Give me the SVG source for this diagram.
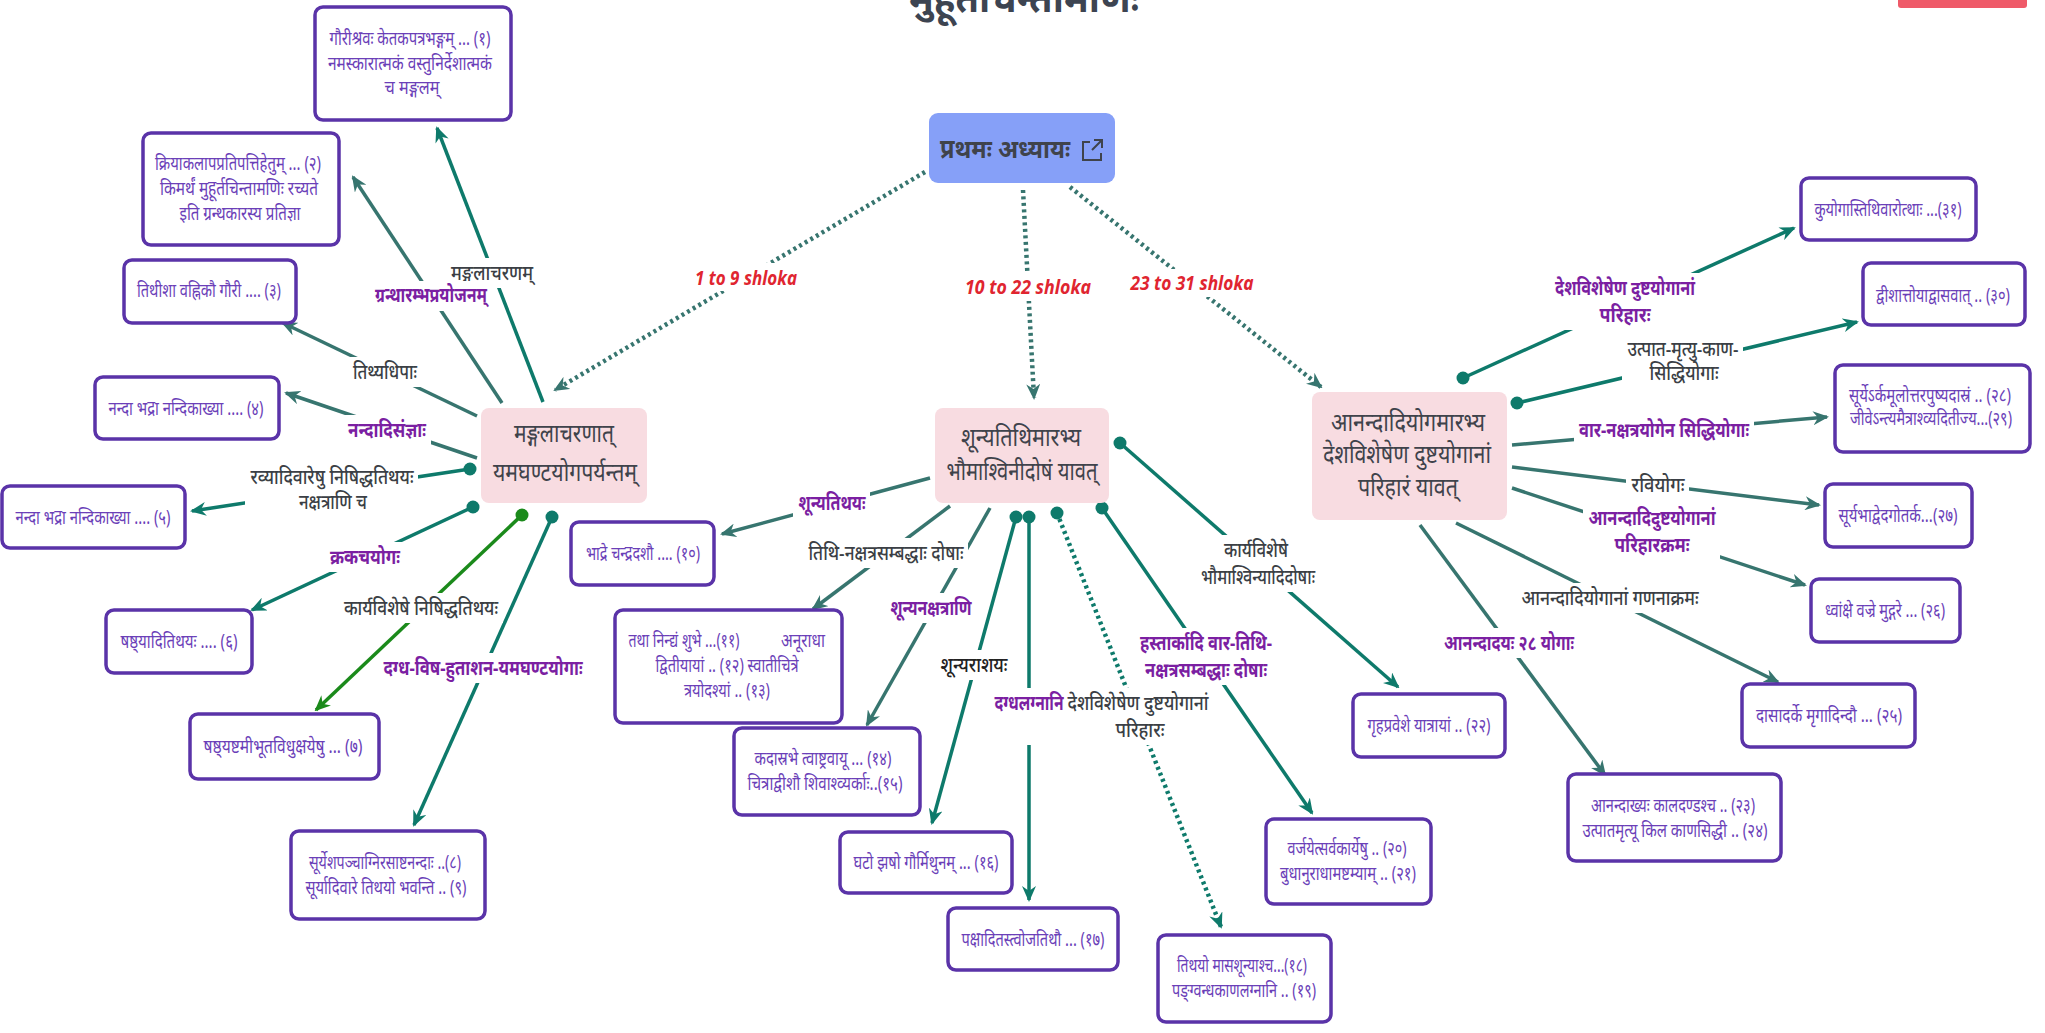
<svg xmlns="http://www.w3.org/2000/svg" width="2045" height="1033" viewBox="0 0 2045 1033">
<style>
text{font-family:"Noto Sans","Noto Sans Devanagari","DejaVu Sans",sans-serif;text-anchor:middle}
.leaf rect{fill:#fff;stroke:#5a33a8;stroke-width:3.5}
.leaf text{fill:#6b3fb8;font-size:19px}
.main rect{fill:#f8dce1}
.main text{fill:#3f434b;font-size:25px}
.e{fill:none;stroke-width:3.5}
.t{stroke:#0e7a6b}
.g{stroke:#37756f}
.gr{stroke:#1b8a1b}
.dt{stroke-dasharray:3 3.5;stroke-width:4.5}
.dot{fill:#0e7a6b}
.lbg{fill:#fff}
.lp{fill:#7b1fa2;font-size:20px;font-weight:bold}
.ld{fill:#3b3f45;font-size:20px;font-weight:500}
.lr{fill:#e02530;font-size:20px;font-weight:bold;font-style:italic}
</style>
<defs>
<marker id="aT" viewBox="0 0 16 14" refX="14" refY="7" markerWidth="16" markerHeight="14" markerUnits="userSpaceOnUse" orient="auto"><path d="M0,0 L16,7 L0,14 L5,7 z" fill="#0e7a6b"/></marker>
<marker id="aG" viewBox="0 0 16 14" refX="14" refY="7" markerWidth="16" markerHeight="14" markerUnits="userSpaceOnUse" orient="auto"><path d="M0,0 L16,7 L0,14 L5,7 z" fill="#37756f"/></marker>
<marker id="aGr" viewBox="0 0 16 14" refX="14" refY="7" markerWidth="16" markerHeight="14" markerUnits="userSpaceOnUse" orient="auto"><path d="M0,0 L16,7 L0,14 L5,7 z" fill="#1b8a1b"/></marker>
</defs>
<rect width="2045" height="1033" fill="#fff"/>
<text x="1024" y="12" font-size="40" font-weight="bold" fill="#3d4451" textLength="230" lengthAdjust="spacingAndGlyphs">मुहूर्तचिन्तामणिः</text>
<rect x="1898" y="-6" width="129" height="14" rx="3" fill="#ef5a69"/>

<g id="connectors">
<path class="e g dt" d="M925,172 L555,390" marker-end="url(#aG)"/>
<path class="e g dt" d="M1023,190 L1034,398" marker-end="url(#aG)"/>
<path class="e g dt" d="M1070,187 L1321,387" marker-end="url(#aG)"/>
<path class="e t" d="M543,402 L437,128" marker-end="url(#aT)"/>
<path class="e g" d="M502,403 L353,177" marker-end="url(#aG)"/>
<path class="e g" d="M477,416 L283,323" marker-end="url(#aG)"/>
<path class="e g" d="M477,458 L286,393" marker-end="url(#aG)"/>
<path class="e t" d="M470,469 L192,511" marker-end="url(#aT)"/>
<path class="e t" d="M473,507 L252,610" marker-end="url(#aT)"/>
<path class="e gr" d="M522,515 L316,710" marker-end="url(#aGr)"/>
<path class="e t" stroke-width="3" d="M552,517 L414,825" marker-end="url(#aT)"/>
<path class="e g" d="M930,478 L722,534" marker-end="url(#aG)"/>
<path class="e g" d="M950,506 L813,609" marker-end="url(#aG)"/>
<path class="e g" d="M990,508 L867,725" marker-end="url(#aG)"/>
<path class="e t" stroke-width="3" d="M1016,517 L932,823" marker-end="url(#aT)"/>
<path class="e t" stroke-width="3" d="M1029,517 L1029,900" marker-end="url(#aT)"/>
<path class="e t dt" d="M1057,513 L1221,927" marker-end="url(#aT)"/>
<path class="e t" d="M1102,508 L1312,813" marker-end="url(#aT)"/>
<path class="e t" d="M1120,443 L1398,687" marker-end="url(#aT)"/>
<path class="e t" d="M1463,378 L1794,228" marker-end="url(#aT)"/>
<path class="e t" d="M1517,403 L1857,322" marker-end="url(#aT)"/>
<path class="e g" d="M1512,445 L1827,417" marker-end="url(#aG)"/>
<path class="e g" d="M1512,467 L1819,505" marker-end="url(#aG)"/>
<path class="e g" d="M1512,488 L1805,585" marker-end="url(#aG)"/>
<path class="e g" d="M1456,523 L1778,682" marker-end="url(#aG)"/>
<path class="e g" d="M1420,525 L1605,775" marker-end="url(#aG)"/>
<circle class="dot" cx="470" cy="469" r="6.5"/>
<circle class="dot" cx="473" cy="507" r="6.5"/>
<circle cx="522" cy="515" r="6.5" fill="#1b8a1b"/>
<circle class="dot" cx="552" cy="517" r="6.5"/>
<circle class="dot" cx="1016" cy="517" r="6.5"/>
<circle class="dot" cx="1029" cy="517" r="6.5"/>
<circle class="dot" cx="1057" cy="513" r="6.5"/>
<circle class="dot" cx="1102" cy="508" r="6.5"/>
<circle class="dot" cx="1120" cy="443" r="6.5"/>
<circle class="dot" cx="1463" cy="378" r="6.5"/>
<circle class="dot" cx="1517" cy="403" r="6.5"/>
</g>

<g id="edge-labels">
<rect class="lbg" x="690" y="263" width="112" height="28"/>
<text class="lr" x="746" y="285" textLength="102" lengthAdjust="spacingAndGlyphs">1 to 9 shloka</text>
<rect class="lbg" x="960" y="273" width="136" height="28"/>
<text class="lr" x="1028" y="294" textLength="126" lengthAdjust="spacingAndGlyphs">10 to 22 shloka</text>
<rect class="lbg" x="1125" y="269" width="134" height="28"/>
<text class="lr" x="1192" y="290" textLength="123" lengthAdjust="spacingAndGlyphs">23 to 31 shloka</text>

<rect class="lbg" x="446" y="258" width="92" height="30"/>
<text class="ld" x="492" y="280" textLength="82" lengthAdjust="spacingAndGlyphs">मङ्गलाचरणम्</text>
<rect class="lbg" x="370" y="281" width="122" height="30"/>
<text class="lp" x="431" y="302" textLength="112" lengthAdjust="spacingAndGlyphs">ग्रन्थारम्भप्रयोजनम्</text>
<rect class="lbg" x="348" y="357" width="74" height="30"/>
<text class="ld" x="385" y="379" textLength="64" lengthAdjust="spacingAndGlyphs">तिथ्यधिपाः</text>
<rect class="lbg" x="343" y="415" width="88" height="30"/>
<text class="lp" x="387" y="437" textLength="78" lengthAdjust="spacingAndGlyphs">नन्दादिसंज्ञाः</text>
<rect class="lbg" x="245" y="461" width="173" height="56"/>
<text class="ld" x="332" y="484" textLength="163" lengthAdjust="spacingAndGlyphs">रव्यादिवारेषु निषिद्धतिथयः</text>
<text class="ld" x="333" y="509" textLength="68" lengthAdjust="spacingAndGlyphs">नक्षत्राणि च</text>
<rect class="lbg" x="325" y="542" width="80" height="30"/>
<text class="lp" x="365" y="564" textLength="70" lengthAdjust="spacingAndGlyphs">क्रकचयोगः</text>
<rect class="lbg" x="339" y="593" width="164" height="30"/>
<text class="ld" x="421" y="615" textLength="154" lengthAdjust="spacingAndGlyphs">कार्यविशेषे निषिद्धतिथयः</text>
<rect class="lbg" x="379" y="653" width="209" height="30"/>
<text class="lp" x="483" y="675" textLength="199" lengthAdjust="spacingAndGlyphs">दग्ध-विष-हुताशन-यमघण्टयोगाः</text>

<rect class="lbg" x="793" y="488" width="77" height="30"/>
<text class="lp" x="832" y="510" textLength="67" lengthAdjust="spacingAndGlyphs">शून्यतिथयः</text>
<rect class="lbg" x="803" y="538" width="165" height="30"/>
<text class="ld" x="886" y="560" textLength="155" lengthAdjust="spacingAndGlyphs">तिथि-नक्षत्रसम्बद्धाः दोषाः</text>
<rect class="lbg" x="886" y="593" width="91" height="30"/>
<text class="lp" x="931" y="615" textLength="81" lengthAdjust="spacingAndGlyphs">शून्यनक्षत्राणि</text>
<rect class="lbg" x="936" y="650" width="77" height="30"/>
<text fill="#222" font-size="20" font-weight="500" x="974" y="672" textLength="67" lengthAdjust="spacingAndGlyphs">शून्यराशयः</text>
<rect class="lbg" x="991" y="688" width="223" height="57"/>
<text class="lp" x="1029" y="710" textLength="69" lengthAdjust="spacingAndGlyphs">दग्धलग्नानि</text>
<text class="ld" x="1138" y="710" textLength="141" lengthAdjust="spacingAndGlyphs">देशविशेषेण दुष्टयोगानां</text>
<text class="ld" x="1140" y="737" textLength="49" lengthAdjust="spacingAndGlyphs">परिहारः</text>
<rect class="lbg" x="1135" y="628" width="142" height="57"/>
<text class="lp" x="1206" y="650" textLength="132" lengthAdjust="spacingAndGlyphs">हस्तार्कादि वार-तिथि-</text>
<text class="lp" x="1206" y="677" textLength="122" lengthAdjust="spacingAndGlyphs">नक्षत्रसम्बद्धाः दोषाः</text>
<rect class="lbg" x="1196" y="535" width="124" height="57"/>
<text class="ld" x="1256" y="557" textLength="64" lengthAdjust="spacingAndGlyphs">कार्यविशेषे</text>
<text class="ld" x="1258" y="584" textLength="114" lengthAdjust="spacingAndGlyphs">भौमाश्विन्यादिदोषाः</text>

<rect class="lbg" x="1550" y="273" width="150" height="57"/>
<text class="lp" x="1625" y="295" textLength="140" lengthAdjust="spacingAndGlyphs">देशविशेषेण दुष्टयोगानां</text>
<text class="lp" x="1625" y="322" textLength="51" lengthAdjust="spacingAndGlyphs">परिहारः</text>
<rect class="lbg" x="1622" y="334" width="121" height="54"/>
<text class="ld" x="1683" y="356" textLength="111" lengthAdjust="spacingAndGlyphs">उत्पात-मृत्यु-काण-</text>
<text class="ld" x="1684" y="380" textLength="69" lengthAdjust="spacingAndGlyphs">सिद्धियोगाः</text>
<rect class="lbg" x="1574" y="415" width="180" height="30"/>
<text class="lp" x="1664" y="437" textLength="170" lengthAdjust="spacingAndGlyphs">वार-नक्षत्रयोगेन सिद्धियोगाः</text>
<rect class="lbg" x="1626" y="470" width="63" height="30"/>
<text class="ld" x="1658" y="492" textLength="53" lengthAdjust="spacingAndGlyphs">रवियोगः</text>
<rect class="lbg" x="1583" y="503" width="137" height="57"/>
<text class="lp" x="1652" y="525" textLength="127" lengthAdjust="spacingAndGlyphs">आनन्दादिदुष्टयोगानां</text>
<text class="lp" x="1652" y="552" textLength="75" lengthAdjust="spacingAndGlyphs">परिहारक्रमः</text>
<rect class="lbg" x="1516" y="583" width="187" height="30"/>
<text class="ld" x="1610" y="605" textLength="177" lengthAdjust="spacingAndGlyphs">आनन्दादियोगानां गणनाक्रमः</text>
<rect class="lbg" x="1439" y="628" width="140" height="30"/>
<text class="lp" x="1509" y="650" textLength="130" lengthAdjust="spacingAndGlyphs">आनन्दादयः २८ योगाः</text>
</g>

<g id="root">
<rect x="929" y="113" width="186" height="70" rx="9" fill="#86a0f8"/>
<text x="1005" y="158" font-size="26" font-weight="bold" fill="#3f434b" textLength="130" lengthAdjust="spacingAndGlyphs">प्रथमः अध्यायः</text>
<path d="M1090,142 h-7 v18 h18 v-7 M1094,140 h8 v8 M1102,140 l-10,10" fill="none" stroke="#3f434b" stroke-width="2"/>
</g>

<g id="n1" class="main">
<rect x="481" y="408" width="166" height="95" rx="8"/>
<text x="564" y="442" textLength="100" lengthAdjust="spacingAndGlyphs">मङ्गलाचरणात्</text>
<text x="565" y="481" textLength="144" lengthAdjust="spacingAndGlyphs">यमघण्टयोगपर्यन्तम्</text>
</g>
<g id="n2" class="main">
<rect x="935" y="408" width="174" height="95" rx="8"/>
<text x="1021" y="446" textLength="120" lengthAdjust="spacingAndGlyphs">शून्यतिथिमारभ्य</text>
<text x="1022" y="480" textLength="151" lengthAdjust="spacingAndGlyphs">भौमाश्विनीदोषं यावत्</text>
</g>
<g id="n3" class="main">
<rect x="1312" y="392" width="195" height="128" rx="8"/>
<text x="1408" y="431" textLength="154" lengthAdjust="spacingAndGlyphs">आनन्दादियोगमारभ्य</text>
<text x="1407" y="463" textLength="168" lengthAdjust="spacingAndGlyphs">देशविशेषेण दुष्टयोगानां</text>
<text x="1408" y="496" textLength="100" lengthAdjust="spacingAndGlyphs">परिहारं यावत्</text>
</g>

<g id="l1" class="leaf"><rect x="315" y="7" width="196" height="113" rx="8"/>
<text x="410" y="45" textLength="161" lengthAdjust="spacingAndGlyphs">गौरीश्रवः केतकपत्रभङ्गम् ... (१)</text>
<text x="410" y="70" textLength="164" lengthAdjust="spacingAndGlyphs">नमस्कारात्मकं वस्तुनिर्देशात्मकं</text>
<text x="412" y="94" textLength="55" lengthAdjust="spacingAndGlyphs">च मङ्गलम्</text></g>
<g id="l2" class="leaf"><rect x="143" y="133" width="196" height="112" rx="8"/>
<text x="238" y="170" textLength="166" lengthAdjust="spacingAndGlyphs">क्रियाकलापप्रतिपत्तिहेतुम् ... (२)</text>
<text x="239" y="195" textLength="158" lengthAdjust="spacingAndGlyphs">किमर्थं मुहूर्तचिन्तामणिः रच्यते</text>
<text x="240" y="220" textLength="121" lengthAdjust="spacingAndGlyphs">इति ग्रन्थकारस्य प्रतिज्ञा</text></g>
<g id="l3" class="leaf"><rect x="124" y="260" width="172" height="63" rx="8"/>
<text x="209" y="297" textLength="144" lengthAdjust="spacingAndGlyphs">तिथीशा वह्निकौ गौरी .... (३)</text></g>
<g id="l4" class="leaf"><rect x="95" y="377" width="184" height="62" rx="8"/>
<text x="186" y="415" textLength="155" lengthAdjust="spacingAndGlyphs">नन्दा भद्रा नन्दिकाख्या .... (४)</text></g>
<g id="l5" class="leaf"><rect x="2" y="486" width="183" height="62" rx="8"/>
<text x="93" y="524" textLength="155" lengthAdjust="spacingAndGlyphs">नन्दा भद्रा नन्दिकाख्या .... (५)</text></g>
<g id="l6" class="leaf"><rect x="106" y="610" width="146" height="63" rx="8"/>
<text x="179" y="648" textLength="117" lengthAdjust="spacingAndGlyphs">षष्ठ्यादितिथयः .... (६)</text></g>
<g id="l7" class="leaf"><rect x="190" y="714" width="189" height="65" rx="8"/>
<text x="283" y="753" textLength="159" lengthAdjust="spacingAndGlyphs">षष्ठ्यष्टमीभूतविधुक्षयेषु ... (७)</text></g>
<g id="l8" class="leaf"><rect x="291" y="831" width="194" height="88" rx="8"/>
<text x="385" y="869" textLength="152" lengthAdjust="spacingAndGlyphs">सूर्येशपञ्चाग्निरसाष्टनन्दाः ..(८)</text>
<text x="386" y="894" textLength="161" lengthAdjust="spacingAndGlyphs">सूर्यादिवारे तिथयो भवन्ति .. (९)</text></g>
<g id="l10" class="leaf"><rect x="571" y="522" width="143" height="63" rx="8"/>
<text x="643" y="560" textLength="114" lengthAdjust="spacingAndGlyphs">भाद्रे चन्द्रदशौ .... (१०)</text></g>
<g id="l11" class="leaf"><rect x="615" y="610" width="227" height="113" rx="8"/>
<text x="684" y="647" textLength="111" lengthAdjust="spacingAndGlyphs">तथा निन्द्यं शुभे ...(११)</text>
<text x="803" y="647" textLength="44" lengthAdjust="spacingAndGlyphs">अनूराधा</text>
<text x="727" y="672" textLength="143" lengthAdjust="spacingAndGlyphs">द्वितीयायां .. (१२) स्वातीचित्रे</text>
<text x="727" y="697" textLength="86" lengthAdjust="spacingAndGlyphs">त्रयोदश्यां .. (१३)</text></g>
<g id="l14" class="leaf"><rect x="734" y="728" width="186" height="87" rx="8"/>
<text x="823" y="765" textLength="137" lengthAdjust="spacingAndGlyphs">कदास्रभे त्वाष्ट्रवायू ... (१४)</text>
<text x="825" y="790" textLength="155" lengthAdjust="spacingAndGlyphs">चित्राद्वीशौ शिवाश्व्यर्काः..(१५)</text></g>
<g id="l16" class="leaf"><rect x="840" y="832" width="172" height="61" rx="8"/>
<text x="926" y="869" textLength="145" lengthAdjust="spacingAndGlyphs">घटो झषो गौर्मिथुनम् ... (१६)</text></g>
<g id="l17" class="leaf"><rect x="948" y="908" width="170" height="62" rx="8"/>
<text x="1033" y="946" textLength="143" lengthAdjust="spacingAndGlyphs">पक्षादितस्त्वोजतिथौ ... (१७)</text></g>
<g id="l18" class="leaf"><rect x="1158" y="935" width="173" height="87" rx="8"/>
<text x="1242" y="972" textLength="130" lengthAdjust="spacingAndGlyphs">तिथयो मासशून्याश्च...(१८)</text>
<text x="1244" y="997" textLength="144" lengthAdjust="spacingAndGlyphs">पङ्ग्वन्धकाणलग्नानि .. (१९)</text></g>
<g id="l20" class="leaf"><rect x="1266" y="819" width="165" height="85" rx="8"/>
<text x="1347" y="855" textLength="119" lengthAdjust="spacingAndGlyphs">वर्जयेत्सर्वकार्येषु .. (२०)</text>
<text x="1348" y="880" textLength="136" lengthAdjust="spacingAndGlyphs">बुधानुराधामष्टम्याम् .. (२१)</text></g>
<g id="l22" class="leaf"><rect x="1353" y="694" width="152" height="63" rx="8"/>
<text x="1429" y="732" textLength="123" lengthAdjust="spacingAndGlyphs">गृहप्रवेशे यात्रायां .. (२२)</text></g>
<g id="l23" class="leaf"><rect x="1568" y="774" width="213" height="87" rx="8"/>
<text x="1673" y="812" textLength="164" lengthAdjust="spacingAndGlyphs">आनन्दाख्यः कालदण्डश्च .. (२३)</text>
<text x="1675" y="837" textLength="185" lengthAdjust="spacingAndGlyphs">उत्पातमृत्यू किल काणसिद्धी .. (२४)</text></g>
<g id="l25" class="leaf"><rect x="1742" y="684" width="173" height="63" rx="8"/>
<text x="1829" y="722" textLength="146" lengthAdjust="spacingAndGlyphs">दासादर्के मृगादिन्दौ ... (२५)</text></g>
<g id="l26" class="leaf"><rect x="1811" y="579" width="149" height="63" rx="8"/>
<text x="1885" y="617" textLength="120" lengthAdjust="spacingAndGlyphs">ध्वांक्षे वज्रे मुद्गरे ... (२६)</text></g>
<g id="l27" class="leaf"><rect x="1825" y="484" width="147" height="63" rx="8"/>
<text x="1898" y="522" textLength="119" lengthAdjust="spacingAndGlyphs">सूर्यभाद्वेदगोतर्क...(२७)</text></g>
<g id="l28" class="leaf"><rect x="1835" y="365" width="195" height="87" rx="8"/>
<text x="1930" y="402" textLength="162" lengthAdjust="spacingAndGlyphs">सूर्येऽर्कमूलोत्तरपुष्यदास्रं .. (२८)</text>
<text x="1931" y="425" textLength="162" lengthAdjust="spacingAndGlyphs">जीवेऽन्त्यमैत्राश्व्यदितीज्य...(२९)</text></g>
<g id="l30" class="leaf"><rect x="1863" y="263" width="162" height="62" rx="8"/>
<text x="1943" y="302" textLength="134" lengthAdjust="spacingAndGlyphs">द्वीशात्तोयाद्वासवात् .. (३०)</text></g>
<g id="l31" class="leaf"><rect x="1801" y="178" width="175" height="62" rx="8"/>
<text x="1888" y="216" textLength="147" lengthAdjust="spacingAndGlyphs">कुयोगास्तिथिवारोत्थाः ...(३१)</text></g>
</svg>
